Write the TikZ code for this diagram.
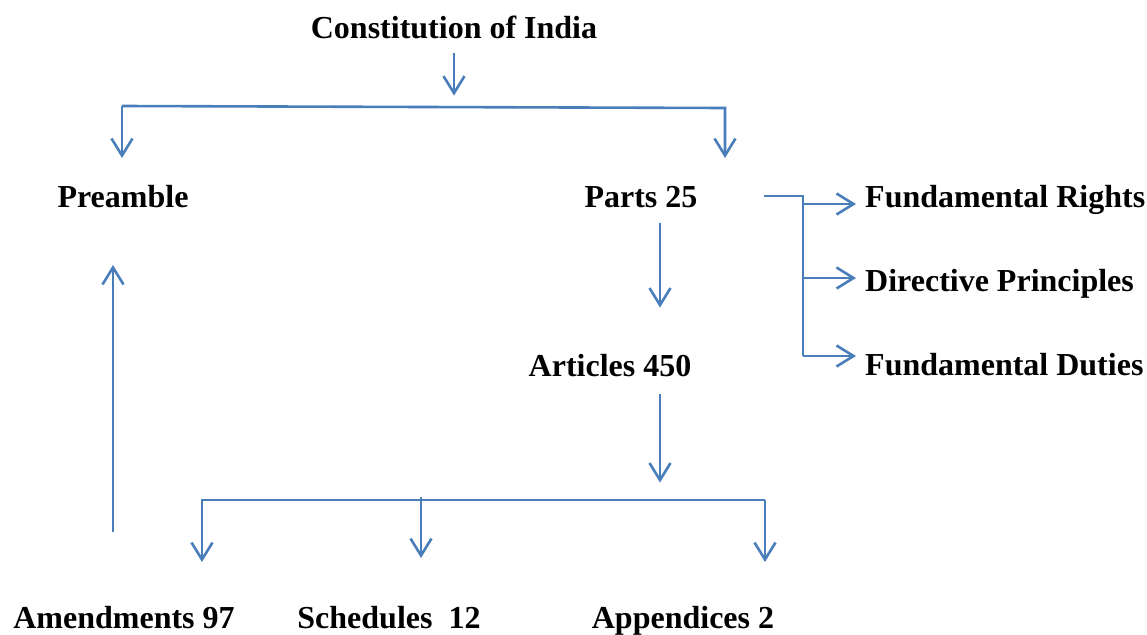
\documentclass[tikz,border=0pt]{standalone}
\usepackage{fontspec}
\setmainfont{Liberation Serif}
\usepackage{tikz}
\usetikzlibrary{arrows.meta, positioning}
\definecolor{LineBlue}{HTML}{4A7EBB}

\begin{document}
\begin{tikzpicture}[
  x = 1pt, y = -1pt,
  lbl/.style  = {font=\bfseries\fontsize{32}{38}\selectfont, inner sep=0pt,
                 anchor=base},
  conn/.style = {LineBlue, line width=2.6pt},
  arr/.style  = {conn, -{Straight Barb[length=17pt, width=21pt]}},
]
\useasboundingbox (0,0) rectangle (1147,634);
% labels
\node[lbl] (const) at (454,38)  {Constitution of India};
\node[lbl] (pre)   at (123,207) {Preamble};
\node[lbl] (parts) at (641,207) {Parts 25};
\node[lbl] (art)   at (610,376) {Articles 450};
\node[lbl, anchor=base west] (fr) at (865,207) {Fundamental Rights};
\node[lbl, anchor=base west] (dp) at (865,291) {Directive Principles};
\node[lbl, anchor=base west] (fd) at (865,375) {Fundamental Duties};
\node[lbl] (amd)   at (124,628) {Amendments 97};
\node[lbl] (sch)   at (389,628) {Schedules~\ 12};
\node[lbl] (app)   at (683,628) {Appendices 2};
% junction points
\coordinate (top-l) at (122,106);
\coordinate (top-r) at (725,108);
\coordinate (bus-r) at (803,196);
\coordinate (bot-l) at (202,500);
\coordinate (bot-m) at (421,497);
\coordinate (bot-r) at (765,500);
\coordinate (pre-up) at (113,532);
% top split
\draw[arr] ([yshift=-14pt]const.south) -- ++(0,43);
\draw[arr] (top-l) -- (top-r) -- ++(0,50);
\draw[arr] (top-l) -- ++(0,52);
% parts to the three branches
\draw[conn] (bus-r -| 764,0) -- (bus-r) -- (bus-r |- 0,356);
\foreach \n/\y in {fr/204, dp/278, fd/356}{
  \coordinate (\n-in) at ([xshift=-9pt]\n.west);
  \draw[arr] (bus-r |- 0,\y) -- (\n-in |- 0,\y);
}
\draw[arr] ([xshift=19pt, yshift=-15pt]parts.south) -- ++(0,85);
\draw[arr] ([xshift=50pt, yshift=-17pt]art.south) -- ++(0,89);
% bottom split
\draw[arr] (bot-r) -- (bot-l) -- ++(0,62);
\draw[arr] (bot-r) -- ++(0,62);
\draw[arr] (bot-m) -- ++(0,61);
% amendments back to preamble
\draw[arr] (pre-up) -- ++(0,-267);
\end{tikzpicture}
\end{document}
